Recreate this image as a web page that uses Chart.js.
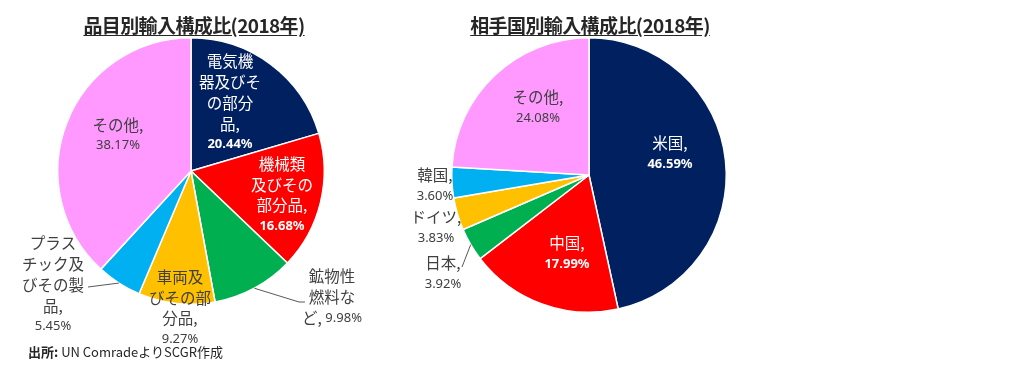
<!DOCTYPE html>
<html>
<head>
<meta charset="utf-8">
<script src="https://cdn.jsdelivr.net/npm/chart.js@4.4.1/dist/chart.umd.min.js"></script>
<style>
  body { margin: 0; background: #fff; font-family: "Noto Sans CJK JP", "Noto Sans", sans-serif; }
  #wrap { position: relative; width: 1024px; height: 374px; overflow: hidden; }
  canvas { position: absolute; top: 0; }
  .title { position: absolute; top: 11px; font-size: 19px; font-weight: bold; color: #262626;
           text-decoration: underline; text-underline-offset: 2px; white-space: nowrap; transform: translateX(-50%); letter-spacing: -0.6px; }
  #source { position: absolute; left: 28px; top: 342px; font-size: 13px; color: #262626; white-space: nowrap; }
</style>
</head>
<body>
<div id="wrap">
  <canvas id="leftChart" width="384" height="374" style="left:0"></canvas>
  <canvas id="rightChart" width="400" height="374" style="left:384px"></canvas>
  <div class="title" style="left:194px">品目別輸入構成比(2018年)</div>
  <div class="title" style="left:590px">相手国別輸入構成比(2018年)</div>
  <div id="source"><b>出所:</b> UN ComradeよりSCGR作成</div>
</div>
<script>
// 品目別 (左)
const itemCategories = ["電気機器及びその部分品", "機械類及びその部分品", "鉱物性燃料など", "車両及びその部分品", "プラスチック及びその製品", "その他"];
const itemValues = [20.44, 16.68, 9.98, 9.27, 5.45, 38.17];
const itemLines = [["電気機", "器及びそ", "の部分", "品,"], ["機械類", "及びその", "部分品,"], ["鉱物性", "燃料な", "ど,"], ["車両及", "びその部", "分品,"], ["プラス", "チック及", "びその製", "品,"], ["その他,"]];

// 相手国別 (右)
const countryCategories = ["米国", "中国", "日本", "ドイツ", "韓国", "その他"];
const countryValues = [46.59, 17.99, 3.92, 3.83, 3.60, 24.08];
const countryLines = [["米国,"], ["中国,"], ["日本,"], ["ドイツ,"], ["韓国,"], ["その他,"]];

const sliceColors = ["#002060", "#FF0000", "#00B050", "#FFC000", "#00B0F0", "#FF99FF"];

// ラベル配置 (円の中心からのずれ)
const itemLayout = [
    { dx: 39, dy: -68, color: "#fff", bold: true },
    { dx: 91, dy: 24, color: "#fff", bold: true },
    { dx: 141, dy: 126, color: "#404040", inline: true, leader: [[108, 131], [114, 131]] },
    { dx: -11, dy: 137, color: "#404040" },
    { dx: -138, dy: 114, color: "#404040", leader: [[-103, 116]] },
    { dx: -73, dy: -36, color: "#404040" }
];
const countryLayout = [
    { dx: 81, dy: -21, color: "#fff", bold: true },
    { dx: -22, dy: 79, color: "#fff", bold: true },
    { dx: -146, dy: 99, color: "#404040", leader: [[-127, 92]] },
    { dx: -153, dy: 53, color: "#404040" },
    { dx: -154, dy: 11, color: "#404040" },
    { dx: -51, dy: -67, color: "#404040" }
];

const textFont = "15.5px 'Noto Sans CJK JP'";
const valueFont = (bold) => (bold ? "bold " : "") + "13px 'Noto Sans', 'Noto Sans CJK JP'";

// 自前のラベル描画プラグイン
const sliceLabels = {
    id: "sliceLabels",
    afterDatasetsDraw(chart, args, opts) {
        const ctx = chart.ctx;
        const meta = chart.getDatasetMeta(0);
        const data = chart.data.datasets[0].data;
        ctx.save();
        meta.data.forEach((arc, i) => {
            const lay = opts.layout[i];
            const cx = arc.x, cy = arc.y;
            if (lay.leader) {
                const mid = (arc.startAngle + arc.endAngle) / 2;
                ctx.beginPath();
                ctx.moveTo(cx + Math.cos(mid) * arc.outerRadius, cy + Math.sin(mid) * arc.outerRadius);
                lay.leader.forEach(p => ctx.lineTo(cx + p[0], cy + p[1]));
                ctx.strokeStyle = "#595959";
                ctx.lineWidth = 1;
                ctx.stroke();
            }
            const val = data[i].toFixed(2) + "%";
            const lines = opts.lines[i];
            const n = lay.inline ? lines.length : lines.length + 1;
            const lh = opts.lineHeight;
            const y0 = cy + lay.dy - (n - 1) * lh / 2;
            const x = cx + lay.dx;
            ctx.textBaseline = "middle";
            ctx.fillStyle = lay.color;
            lines.forEach((t, k) => {
                const y = y0 + k * lh;
                if (lay.inline && k === lines.length - 1) {
                    // 文字と数値を同じ行に
                    ctx.font = textFont;
                    const w1 = ctx.measureText(t + " ").width;
                    ctx.font = valueFont(false);
                    const w2 = ctx.measureText(val).width;
                    const start = x - (w1 + w2) / 2;
                    ctx.textAlign = "left";
                    ctx.font = textFont;
                    ctx.fillText(t, start, y);
                    ctx.font = valueFont(false);
                    ctx.fillText(val, start + w1, y + 1);
                } else {
                    ctx.textAlign = "center";
                    ctx.font = textFont;
                    ctx.fillText(t, x, y);
                }
            });
            if (!lay.inline) {
                ctx.textAlign = "center";
                ctx.font = valueFont(lay.bold);
                ctx.fillText(val, x, y0 + lines.length * lh);
            }
        });
        ctx.restore();
    }
};

function makePie(id, cats, vals, lines, layout, padding, lh) {
    return new Chart(document.getElementById(id), {
        type: "pie",
        data: {
            labels: cats,
            datasets: [{ data: vals, backgroundColor: sliceColors, borderColor: "#fff", borderWidth: 1.5 }]
        },
        options: {
            responsive: false,
            animation: false,
            layout: { padding: padding },
            plugins: {
                legend: { display: false },
                tooltip: { enabled: false },
                sliceLabels: { lines: lines, layout: layout, lineHeight: lh }
            }
        },
        plugins: [sliceLabels]
    });
}

makePie("leftChart", itemCategories, itemValues, itemLines, itemLayout, { left: 57, right: 59, top: 37, bottom: 69 }, 20.7);
makePie("rightChart", countryCategories, countryValues, countryLines, countryLayout, { left: 67, right: 57, top: 37, bottom: 61 }, 21.5);
</script>
</body>
</html>
